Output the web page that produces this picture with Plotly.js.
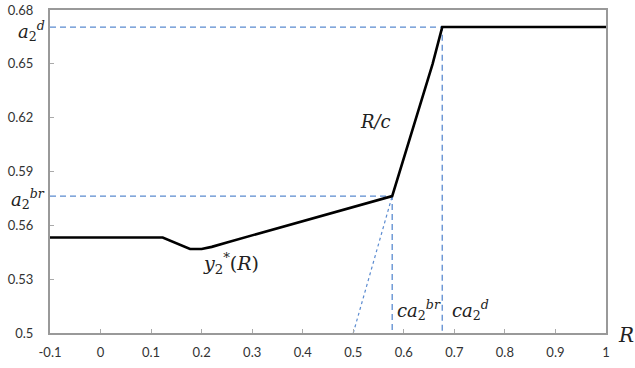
<!DOCTYPE html>
<html>
<head>
<meta charset="utf-8">
<script src="https://cdn.plot.ly/plotly-3.0.1.min.js"></script>
<style>html,body{margin:0;padding:0;background:#fff;}#chart{width:635px;height:368px;}</style>
</head>
<body>
<div id="chart"></div>
<script>
// Main curve y2*(R) then R/c then flat a2^d
const curveX = [-0.1, 0.123, 0.177, 0.2, 0.22, 0.25, 0.577, 0.657, 0.676, 1.0];
const curveY = [0.5532, 0.5532, 0.5468, 0.5468, 0.548, 0.5505, 0.5763, 0.65, 0.6705, 0.6705];
// Reference levels
const a2br = 0.5763, a2d = 0.6705;
const ca2br = 0.577, ca2d = 0.676;
const dotStartX = 0.5, dotStartY = 0.5;
const xTicks = [-0.1, 0, 0.1, 0.2, 0.3, 0.4, 0.5, 0.6, 0.7, 0.8, 0.9, 1];
const xTickText = ['-0.1', '0', '0.1', '0.2', '0.3', '0.4', '0.5', '0.6', '0.7', '0.8', '0.9', '1'];
const yTicks = [0.5, 0.53, 0.56, 0.59, 0.62, 0.65, 0.68];
const yTickText = ['0.5', '0.53', '0.56', '0.59', '0.62', '0.65', '0.68'];
const xMin = -0.1, xMax = 1, yMin = 0.5, yMax = 0.68;

const dashColor = '#5b8bd0';
const dashed = {color: dashColor, width: 1.3, dash: '6px,4px'};
const traces = [
  {x: [xMin, ca2d, ca2d], y: [a2d, a2d, yMin], mode: 'lines', line: dashed, hoverinfo: 'skip'},
  {x: [xMin, ca2br, ca2br], y: [a2br, a2br, yMin], mode: 'lines', line: dashed, hoverinfo: 'skip'},
  {x: [dotStartX, ca2br], y: [dotStartY, a2br], mode: 'lines', line: {color: dashColor, width: 1.2, dash: 'dot'}, hoverinfo: 'skip'},
  {x: curveX, y: curveY, mode: 'lines', line: {color: '#000', width: 2.6}, hoverinfo: 'skip'}
];

const serif = {family: 'DejaVu Serif, Liberation Serif, serif', size: 18, color: '#222'};
function it(s){ return '<i>' + s + '</i>'; }
const annotations = [
  {xref: 'paper', yref: 'y', x: 0, y: a2d, xanchor: 'right', yanchor: 'middle', xshift: -3, yshift: -4,
   text: it('a') + '<sub>2</sub><sup>' + it('d') + '</sup>', showarrow: false, font: serif},
  {xref: 'paper', yref: 'y', x: 0, y: a2br, xanchor: 'right', yanchor: 'middle', xshift: -3, yshift: -3,
   text: it('a') + '<sub>2</sub><sup>' + it('br') + '</sup>', showarrow: false, font: serif},
  {xref: 'x', yref: 'y', x: ca2br, y: 0.5128, xanchor: 'left', yanchor: 'middle', xshift: 3,
   text: it('ca') + '<sub>2</sub><sup>' + it('br') + '</sup>', showarrow: false, font: serif},
  {xref: 'x', yref: 'y', x: ca2d, y: 0.5128, xanchor: 'left', yanchor: 'middle', xshift: 8,
   text: it('ca') + '<sub>2</sub><sup>' + it('d') + '</sup>', showarrow: false, font: serif},
  {xref: 'x', yref: 'y', x: 0.543, y: 0.6176, xanchor: 'center', yanchor: 'middle',
   text: it('R/c'), showarrow: false, font: serif},
  {xref: 'x', yref: 'y', x: 0.258, y: 0.5385, xanchor: 'center', yanchor: 'middle',
   text: it('y') + '<sub>2</sub><sup>*</sup>(' + it('R') + ')', showarrow: false, font: {family: serif.family, size: 19, color: '#222'}},
  {xref: 'paper', yref: 'paper', x: 1, y: 0, xanchor: 'left', yanchor: 'middle', xshift: 10, yshift: -2,
   text: it('R'), showarrow: false, font: {family: serif.family, size: 20, color: '#222'}}
];

const tickFont = {family: 'Lato, Open Sans, sans-serif', size: 13, color: '#333'};
const layout = {
  width: 635, height: 368,
  margin: {l: 50, r: 29, t: 10, b: 35},
  paper_bgcolor: '#fff', plot_bgcolor: '#fff',
  showlegend: false,
  xaxis: {range: [xMin, xMax], tickvals: xTicks, ticktext: xTickText, ticks: 'inside', ticklen: 4,
          tickcolor: '#aaa', showgrid: false, zeroline: false, showline: true, linecolor: '#999',
          linewidth: 2, mirror: true, tickfont: tickFont, ticklabelstandoff: 6, fixedrange: true},
  yaxis: {range: [yMin, yMax], tickvals: yTicks, ticktext: yTickText, ticks: 'inside', ticklen: 4,
          tickcolor: '#aaa', showgrid: false, zeroline: false, showline: true, linecolor: '#999',
          linewidth: 2, mirror: true, tickfont: tickFont, ticklabelstandoff: 12, fixedrange: true},
  annotations: annotations
};
Plotly.newPlot('chart', traces, layout, {displayModeBar: false, staticPlot: true});
</script>
</body>
</html>
